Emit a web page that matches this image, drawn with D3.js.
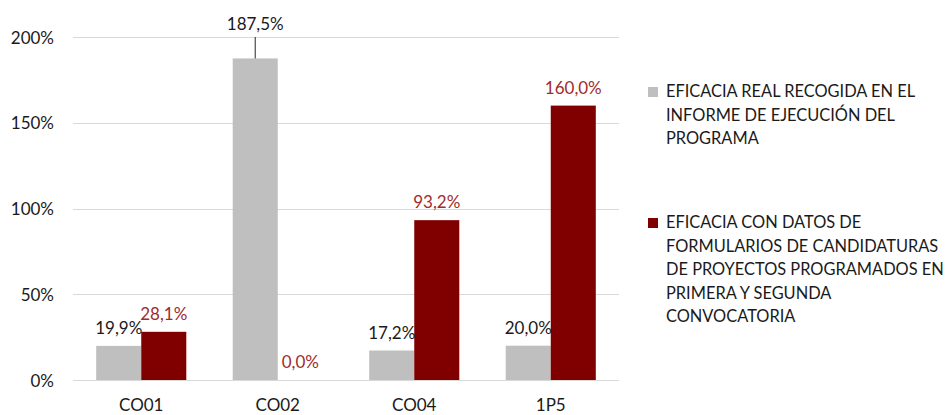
<!DOCTYPE html>
<html>
<head>
<meta charset="utf-8">
<script src="https://cdn.jsdelivr.net/npm/d3@7"></script>
<style>
  html, body { margin: 0; padding: 0; background: #fff; }
  svg { display: block; font-family: Lato, "Open Sans", sans-serif; }
</style>
</head>
<body>
<svg id="chart" width="952" height="415"></svg>
<script>
// ---- data ----
const categories = ["CO01", "CO02", "CO04", "1P5"];
const seriesNames = ["real", "form"];
const realValues = [0.199, 1.875, 0.172, 0.200];
const formValues = [0.281, 0.000, 0.932, 1.600];
const yTicks = [0, 0.5, 1, 1.5, 2];
const legendLines = [
  ["EFICACIA REAL RECOGIDA EN EL", "INFORME DE EJECUCIÓN DEL", "PROGRAMA"],
  ["EFICACIA CON DATOS DE", "FORMULARIOS DE CANDIDATURAS", "DE PROYECTOS PROGRAMADOS EN", "PRIMERA Y SEGUNDA", "CONVOCATORIA"]
];
const barColors = ["#bfbfbf", "#800000"];
const labelColors = ["#1a1a1a", "#a02c2c"];

// ---- layout ----
const svg = d3.select("#chart");
const plot = { left: 73, right: 619, top: 37, bottom: 380 };

const x = d3.scaleBand().domain(categories).range([plot.left, plot.right])
  .paddingInner(0.34).paddingOuter(0.17);
const xs = d3.scaleBand().domain(seriesNames).range([0, x.bandwidth()]);
const y = d3.scaleLinear().domain([0, 2]).range([plot.bottom, plot.top]);

const locale = d3.formatLocale({ decimal: ",", thousands: ".", grouping: [3], currency: ["", "€"] });
const tickFmt = locale.format(".0%");
const labelFmt = locale.format(".1%");

// gridlines
svg.append("g").selectAll("line").data(yTicks).join("line")
  .attr("x1", plot.left).attr("x2", plot.right)
  .attr("y1", d => Math.round(y(d)) + 0.5).attr("y2", d => Math.round(y(d)) + 0.5)
  .attr("stroke", "#d9d9d9").attr("stroke-width", 1);

// y axis labels
const yAxis = d3.axisLeft(y).tickValues(yTicks).tickFormat(tickFmt).tickSize(0).tickPadding(0);
const gy = svg.append("g").attr("transform", "translate(54,0)").call(yAxis);
gy.select(".domain").remove();
gy.selectAll("text").attr("font-size", 17).attr("fill", "#1a1a1a")
  .attr("font-family", "Lato, sans-serif").attr("dy", "0.36em");

// x axis labels
const xAxis = d3.axisBottom(x).tickSize(0).tickPadding(0);
const gx = svg.append("g").attr("transform", `translate(0,${plot.bottom})`).call(xAxis);
gx.select(".domain").remove();
gx.selectAll("text").attr("font-size", 17).attr("fill", "#1a1a1a")
  .attr("font-family", "Lato, sans-serif").attr("dy", null).attr("y", 31);

// bars
const rows = categories.map((c, i) => ({ cat: c, vals: [realValues[i], formValues[i]] }));
const groups = svg.append("g").selectAll("g").data(rows).join("g")
  .attr("transform", d => `translate(${x(d.cat)},0)`);

groups.selectAll("rect").data(d => d.vals.map((v, k) => ({ v, k }))).join("rect")
  .attr("x", d => xs(seriesNames[d.k]))
  .attr("width", xs.bandwidth())
  .attr("y", d => y(d.v))
  .attr("height", d => y(0) - y(d.v))
  .attr("fill", d => barColors[d.k]);

// data labels
groups.each(function(d) {
  const g = d3.select(this);
  d.vals.forEach((v, k) => {
    const cx = xs(seriesNames[k]) + xs.bandwidth() / 2;
    const top = y(v);
    let base = top - 12;
    if (base - 13 < plot.top) {
      // label moved above plot with leader line
      base = plot.top - 7;
      g.append("line").attr("x1", Math.round(cx) - 0.5).attr("x2", Math.round(cx) - 0.5)
        .attr("y1", plot.top).attr("y2", top)
        .attr("stroke", "#262626").attr("stroke-width", 1);
    }
    g.append("text").attr("x", cx).attr("y", base)
      .attr("text-anchor", "middle").attr("font-size", 17)
      .attr("fill", labelColors[k]).text(labelFmt(v));
  });
});

// legend
const legend = svg.append("g");
const legendTop = [97, 228];
legendLines.forEach((lines, k) => {
  legend.append("rect").attr("x", 648).attr("y", legendTop[k] - 10)
    .attr("width", 10).attr("height", 10).attr("fill", barColors[k]);
  lines.forEach((t, j) => {
    legend.append("text").attr("x", 666).attr("y", legendTop[k] + j * 23.6)
      .attr("font-size", 16.4).attr("fill", "#1a1a1a").text(t);
  });
});
</script>
</body>
</html>
